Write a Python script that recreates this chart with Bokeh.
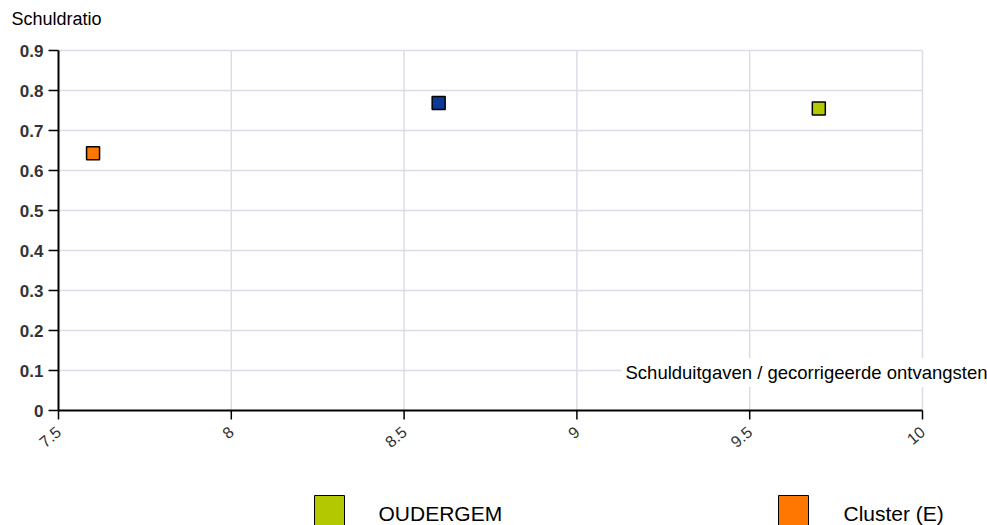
import math
from bokeh.plotting import figure
from bokeh.models import Range1d, Label, BoxAnnotation, ColumnDataSource
from bokeh.core.properties import value
from bokeh.embed import file_html
from bokeh.resources import INLINE

# ---- data ----
series_names = ["Cluster (E)", "Gemeente", "OUDERGEM"]
series_colors = ["#ff7700", "#0a3a96", "#b4c800"]
x_values = [7.6, 8.6, 9.7]
y_values = [0.643, 0.769, 0.755]

x_ticks = [7.5, 8, 8.5, 9, 9.5, 10]
x_tick_labels = ["7.5", "8", "8.5", "9", "9.5", "10"]
y_ticks = [0, 0.1, 0.2, 0.3, 0.4, 0.5, 0.6, 0.7, 0.8, 0.9]
y_tick_labels = ["0", "0.1", "0.2", "0.3", "0.4", "0.5", "0.6", "0.7", "0.8", "0.9"]

legend_names = ["OUDERGEM", "Cluster (E)"]
legend_colors = ["#b4c800", "#ff7700"]

x_title = "Schulduitgaven / gecorrigeerde ontvangsten"
y_title = "Schuldratio"

# ---- layout (pixels) ----
W, H = 987, 525
FONT = "Liberation Sans"
AX_LEFT, AX_RIGHT = 58, 922      # pixel columns of first / last x tick
AX_BOTTOM, AX_TOP = 410, 50      # pixel rows of first / last y tick

x0, x1 = x_ticks[0], x_ticks[-1]
y0, y1 = y_ticks[0], y_ticks[-1]
xs = (x1 - x0) / (AX_RIGHT - AX_LEFT)
ys = (y1 - y0) / (AX_BOTTOM - AX_TOP)

p = figure(width=W, height=H, output_backend="svg", toolbar_location=None,
           x_axis_location=None, y_axis_location=None,
           x_range=Range1d(x0 - AX_LEFT * xs, x1 + (W - AX_RIGHT) * xs),
           y_range=Range1d(y0 - (H - AX_BOTTOM) * ys, y1 + AX_TOP * ys),
           min_border=0)
p.outline_line_color = None
p.background_fill_color = "white"
p.border_fill_color = "white"
p.grid.visible = False

GRID = "#dcdce9"
nx, ny = len(x_ticks) - 1, len(y_ticks) - 1
# grid lines
p.segment(x0=[x0] * ny, y0=y_ticks[1:], x1=[x1] * ny, y1=y_ticks[1:],
          line_color=GRID, line_width=1.5)
p.segment(x0=x_ticks[1:], y0=[y0] * nx, x1=x_ticks[1:], y1=[y1] * nx,
          line_color=GRID, line_width=1.5)

# axis lines
p.segment(x0=[x0, x0], y0=[y0, y0], x1=[x1, x0], y1=[y0, y1],
          line_color="black", line_width=2)
# ticks
p.ray(x=[x0] * len(y_ticks), y=y_ticks, length=10, length_units="screen",
      angle=math.pi, line_color="black", line_width=1.5)
p.ray(x=x_ticks, y=[y0] * len(x_ticks), length=9, length_units="screen",
      angle=-math.pi / 2, line_color="black", line_width=1.5)

# tick labels
p.text(x=[x0] * len(y_ticks), y=y_ticks, text=y_tick_labels, x_offset=-15,
       text_align="right", text_baseline="middle", text_font=value(FONT),
       text_font_size="17px", text_font_style="bold", text_color="#333333")
p.text(x=x_ticks, y=[y0] * len(x_ticks), text=x_tick_labels, x_offset=0, y_offset=19,
       angle=0.7, text_align="right", text_baseline="middle", text_font=value(FONT),
       text_font_size="16px", text_color="#333333")

# points
src = ColumnDataSource(dict(x=x_values, y=y_values, c=series_colors, n=series_names))
p.scatter("x", "y", source=src, marker="square", size=13, fill_color="c",
          line_color="black", line_width=1.5)

# axis titles
p.add_layout(Label(x=11, y=18, x_units="canvas", y_units="canvas", text=y_title,
                   text_font=FONT, text_font_size="18px", text_color="black",
                   text_baseline="alphabetic"))
p.add_layout(Label(x=621, y=372, x_units="canvas", y_units="canvas", text=x_title,
                   text_font=FONT, text_font_size="18.5px", text_color="black",
                   text_align="left", text_baseline="alphabetic",
                   background_fill_color="white", padding=4))

# legend (manual)
legend_box_left = [314, 778]
legend_text_left = [378, 843]
for name, col, bx, tx in zip(legend_names, legend_colors, legend_box_left, legend_text_left):
    p.add_layout(BoxAnnotation(left=bx, right=bx + 30, top=495, bottom=530,
                               left_units="canvas", right_units="canvas",
                               top_units="canvas", bottom_units="canvas",
                               fill_color=col, fill_alpha=1, line_color="black",
                               line_width=1, line_alpha=1))
    p.add_layout(Label(x=tx, y=513, x_units="canvas", y_units="canvas", text=name,
                       text_font=FONT, text_font_size="21px", text_color="black",
                       text_baseline="alphabetic"))

open("out.html", "w").write(file_html(p, INLINE))
